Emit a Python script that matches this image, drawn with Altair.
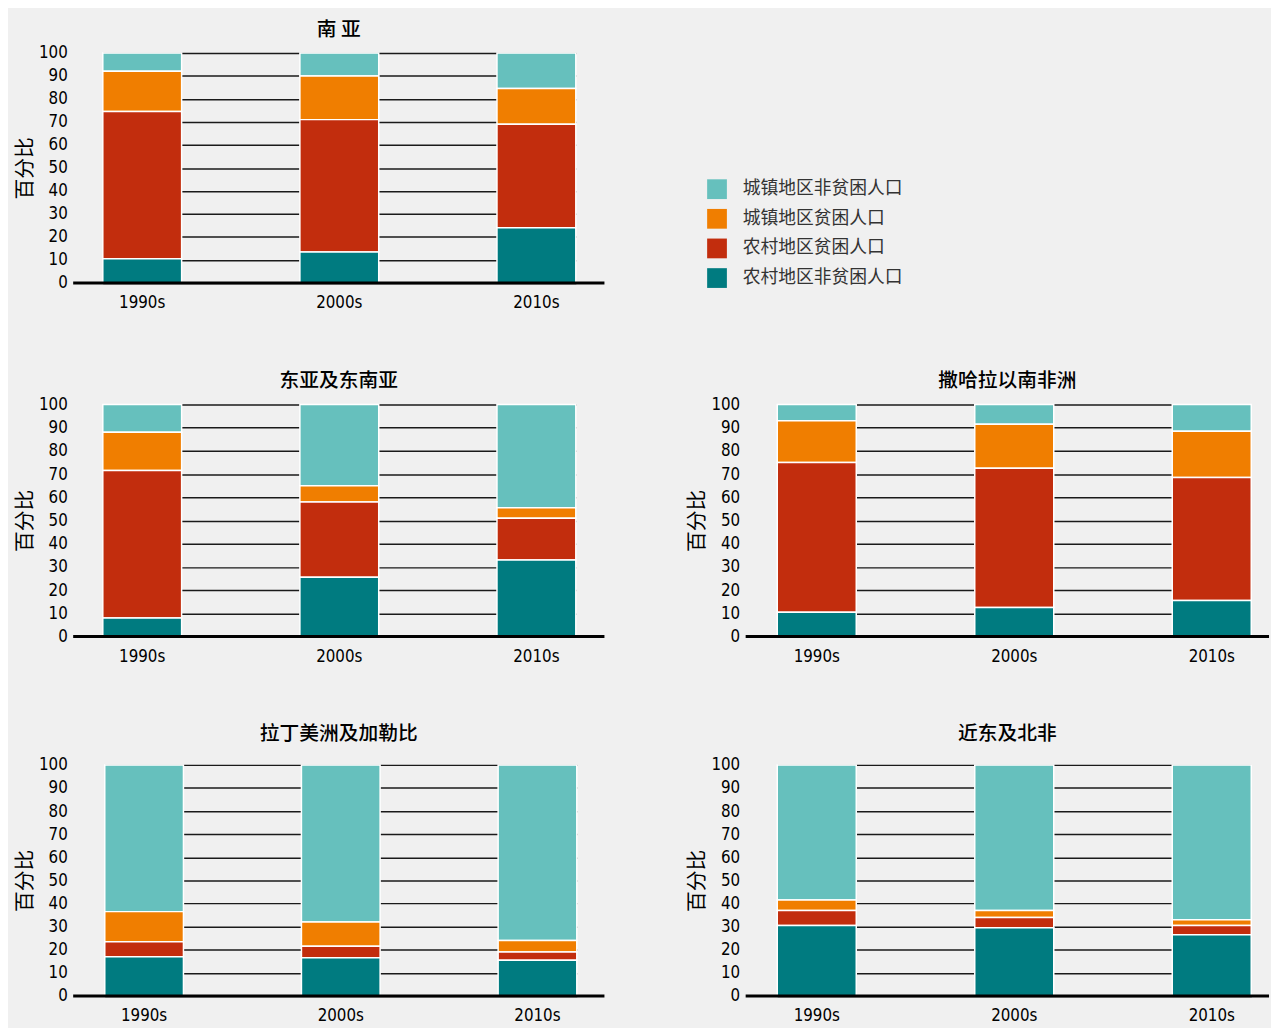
import altair as alt
import pandas as pd

decades = ["1990s", "2000s", "2010s"]
categories = ["城镇地区非贫困人口", "城镇地区贫困人口", "农村地区贫困人口", "农村地区非贫困人口"]
palette = ["#66c0bd", "#f07e00", "#c22d0d", "#007b80"]
stack_rank = [3, 2, 1, 0]  # 0 = bottom of the stack

region_titles = ["南 亚", "东亚及东南亚", "撒哈拉以南非洲", "拉丁美洲及加勒比", "近东及北非"]

# shares (%) by decade, in the order of `categories`
south_asia = [[8, 10, 15.5], [17.5, 19, 15.5], [64, 57.5, 45], [10.5, 13.5, 24]]
east_asia = [[12, 35, 44.5], [16.5, 7, 4.5], [63.5, 32.5, 18], [8, 25.5, 33]]
sub_saharan = [[7, 8.5, 11.5], [18, 19, 20], [64.5, 60, 53], [10.5, 12.5, 15.5]]
latin_america = [[63.5, 68, 76], [13, 10.5, 5], [6.5, 5, 3.5], [17, 16.5, 15.5]]
near_east = [[58.5, 63, 67], [4.5, 3, 2.5], [6.5, 4.5, 4], [30.5, 29.5, 26.5]]

region_values = [south_asia, east_asia, sub_saharan, latin_america, near_east]

rows = []
for title, vals in zip(region_titles, region_values):
    for ci, cat in enumerate(categories):
        for di, dec in enumerate(decades):
            rows.append({"region": title, "decade": dec, "category": cat,
                         "value": vals[ci][di], "rank": stack_rank[ci]})
df = pd.DataFrame(rows)

NARROW = "Liberation Sans Narrow, DejaVu Sans Condensed, sans-serif"
CJK = "Noto Sans CJK SC"

y_axis = alt.Axis(values=list(range(0, 101, 10)), title="百分比",
                  titleFont=CJK, titleFontSize=21, titleFontWeight="normal",
                  titleColor="black", titlePadding=3,
                  labelFont=NARROW, labelFontSize=17, labelColor="black",
                  labelPadding=6, ticks=False, domain=False,
                  grid=True, gridColor="#1a1a1a", gridWidth=1.5)


def panel(title, width, xrange, height=233, title_offset=4):
    d = df[df["region"] == title]
    bars = alt.Chart(d).mark_bar(stroke="white", strokeWidth=1.5).encode(
        x=alt.X("decade:N", sort=decades,
                scale=alt.Scale(range=xrange, paddingInner=0.6, paddingOuter=0),
                axis=alt.Axis(title=None, labelAngle=0, ticks=False, domain=False,
                              labelPadding=12, labelFontSize=17, labelFont=NARROW,
                              labelColor="black", grid=False)),
        y=alt.Y("value:Q", stack="zero",
                scale=alt.Scale(domain=[0, 100], nice=False), axis=y_axis),
        color=alt.Color("category:N",
                        scale=alt.Scale(domain=categories, range=palette),
                        legend=alt.Legend(title=None, orient="none", legendX=642, legendY=128,
                                          symbolType="square", symbolSize=400,
                                          symbolStrokeWidth=0, labelFont=CJK,
                                          labelFontSize=18, labelColor="#333333",
                                          labelLimit=400,
                                          labelOffset=16, rowPadding=10)),
        order=alt.Order("rank:Q", sort="ascending"),
    )
    base_line = alt.Chart(pd.DataFrame({"value": [0]})).mark_rule(
        color="black", strokeWidth=3).encode(
        x=alt.value(0), x2=alt.value(width),
        y=alt.Y("value:Q", scale=alt.Scale(domain=[0, 100], nice=False), axis=y_axis))
    return alt.layer(bars, base_line).properties(
        width=width, height=height,
        title=alt.TitleParams(title, offset=title_offset, font=CJK, fontSize=20,
                              fontWeight=500, color="black", anchor="middle"))


p1 = panel(region_titles[0], 538, [30, 509], height=233, title_offset=4)
p2 = panel(region_titles[1], 538, [30, 509], height=235, title_offset=5)
p3 = panel(region_titles[2], 530, [32, 512], height=235, title_offset=5)
p4 = panel(region_titles[3], 538, [32, 510], height=234, title_offset=12)
p5 = panel(region_titles[4], 530, [32, 512], height=234, title_offset=12)

chart = alt.vconcat(
    alt.hconcat(p1),
    alt.hconcat(p2, p3, spacing=81),
    alt.hconcat(p4, p5, spacing=81),
    spacing=61,
).properties(
    padding={"left": 6, "top": 6, "right": 0, "bottom": 0}
).configure(
    background="#f0f0f0"
).configure_view(stroke=None)

chart.save("out.html", embed_options={"renderer": "svg", "actions": False})
